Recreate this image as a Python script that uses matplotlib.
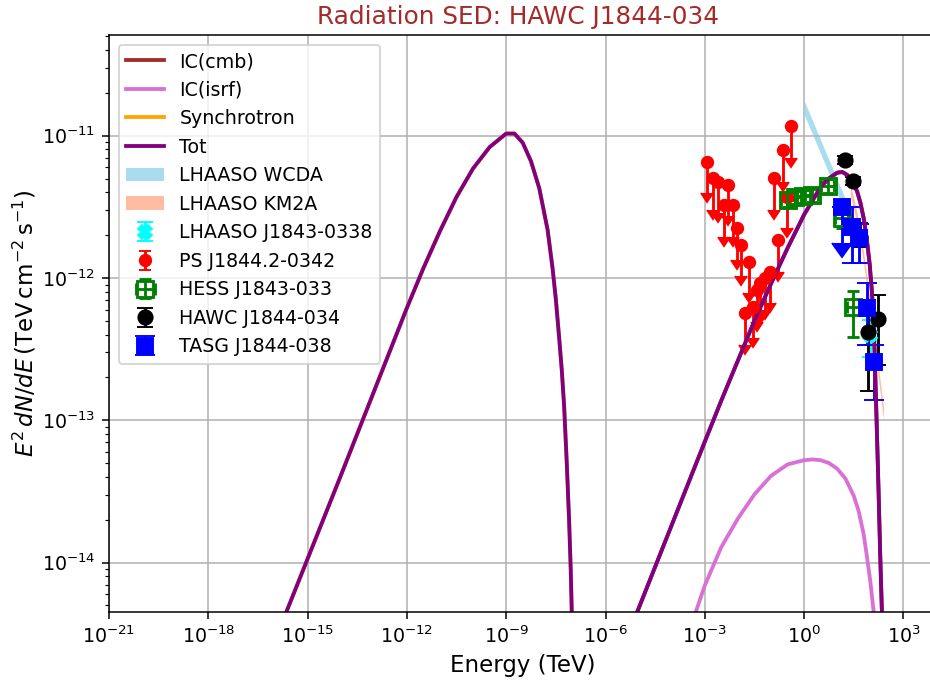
"""SED of HAWC J1844-034: leptonic model curves plus multi-instrument data."""

import matplotlib
matplotlib.use('Agg')
import matplotlib.pyplot as plt
import numpy as np

# --- model curves (log10 E [TeV], log10 E^2 dN/dE [TeV cm^-2 s^-1]) ---
sync_logE = [-16.0, -15.63, -14.0, -13.0, -12.0, -11.5, -11.0, -10.5, -10.0, -9.5, -9.0,
             -8.75, -8.5, -8.25, -8.0, -7.75, -7.6, -7.5, -7.4, -7.32, -7.25, -7.17,
             -7.1, -7.05, -7.02, -6.99]
sync_logF = [-14.56, -14.34, -13.39, -12.80, -12.21, -11.93, -11.67, -11.43, -11.23, -11.08, -10.985,
             -10.985, -11.05, -11.18, -11.37, -11.66, -11.93, -12.15, -12.42, -12.65, -12.9, -13.3,
             -13.7, -14.05, -14.34, -14.6]

cmb_logE = [-5.2, -5.03, -3.0, -2.5, -2.0, -1.5, -1.0, -0.5, 0.0, 0.5, 0.75, 1.0, 1.15,
            1.3, 1.45, 1.6, 1.7, 1.8, 1.9, 1.98, 2.05, 2.1, 2.14, 2.19, 2.25, 2.3, 2.35, 2.38]
cmb_logF = [-14.44, -14.34, -13.15, -12.86, -12.58, -12.30, -12.04, -11.79, -11.555, -11.36, -11.3,
            -11.26, -11.255, -11.275, -11.32, -11.39, -11.47, -11.58, -11.74, -11.9, -12.1, -12.3,
            -12.6, -13.0, -13.5, -13.95, -14.34, -14.6]

isrf_logE = [-3.4, -3.27, -3.0, -2.5, -2.0, -1.5, -1.0, -0.5, 0.0, 0.25, 0.5, 0.75, 1.0,
             1.25, 1.5, 1.65, 1.8, 1.9, 2.0, 2.08, 2.14, 2.17]
isrf_logF = [-14.43, -14.345, -14.16, -13.89, -13.69, -13.52, -13.39, -13.31, -13.28, -13.275, -13.28,
             -13.3, -13.34, -13.41, -13.53, -13.64, -13.8, -13.96, -14.13, -14.3, -14.42, -14.5]

# --- LHAASO bands ---
wcda_e = [1.0, 3.0, 10.0, 25.0]
wcda_lo = [1.41e-11, 7.7e-12, 3.94e-12, 2.37e-12]
wcda_hi = [1.77e-11, 9.6e-12, 4.94e-12, 2.97e-12]

km2a_e = [25.0, 40.0, 63.0, 100.0, 158.0, 251.0]
km2a_lo = [3.80e-12, 2.40e-12, 1.26e-12, 5.7e-13, 2.4e-13, 1.02e-13]
km2a_hi = [4.55e-12, 2.87e-12, 1.51e-12, 6.8e-13, 2.9e-13, 1.23e-13]

# --- data points ---
lhaaso_e = [98.0]
lhaaso_f = [4.0e-13]
lhaaso_lo = [1.2e-13]
lhaaso_hi = [1.1e-13]

ps_e = [1.19e-3, 1.73e-3, 2.56e-3, 3.80e-3, 5.13e-3, 6.97e-3, 9.19e-3, 1.24e-2, 1.64e-2,
        2.21e-2, 2.92e-2, 3.8e-2, 4.66e-2, 6.6e-2, 9.33e-2, 0.123, 0.166, 0.226, 0.298, 0.402]
ps_f = [6.56e-12, 5.02e-12, 4.75e-12, 3.26e-12, 4.51e-12, 3.26e-12, 2.24e-12, 1.71e-12, 5.66e-13,
        1.30e-12, 6.30e-13, 8.24e-13, 9.18e-13, 1.0e-12, 1.11e-12, 5.02e-12, 1.85e-12, 7.94e-12,
        3.73e-12, 1.17e-11]
ul_frac = 0.4

hess_e = [0.33, 0.53, 0.95, 1.69, 5.27, 13.7, 30.6]
hess_f = [3.53e-12, 3.7e-12, 3.78e-12, 3.84e-12, 4.43e-12, 2.64e-12, 6.27e-13]
hess_lo = [4.0e-13, 4.0e-13, 4.0e-13, 4.0e-13, 5.0e-13, 4.0e-13, 2.4e-13]
hess_hi = [4.0e-13, 4.0e-13, 4.0e-13, 4.0e-13, 5.0e-13, 4.0e-13, 1.9e-13]
hess_elo = [0.13, 0.2, 0.35, 0.6, 2.0, 5.0, 11.0]
hess_ehi = [0.2, 0.3, 0.55, 1.0, 3.0, 8.0, 17.0]

hawc_e = [17.2, 29.3, 49.0, 87.0, 167.0]
hawc_f = [6.75e-12, 4.83e-12, 1.95e-12, 4.2e-13, 5.13e-13]
hawc_lo = [4.0e-13, 3.0e-13, 2.9e-13, 2.6e-13, 2.7e-13]
hawc_hi = [4.0e-13, 3.0e-13, 4.8e-13, 2.8e-13, 2.5e-13]

tasg_e = [14.0, 28.0, 45.7, 77.8, 132.0]
tasg_f = [3.16e-12, 2.28e-12, 1.91e-12, 6.16e-13, 2.58e-13]
tasg_lo = [1.4e-12, 1.0e-12, 6.4e-13, 2.8e-13, 1.2e-13]
tasg_hi = [0.0, 8.8e-13, 5.0e-13, 3.1e-13, 8.0e-14]
tasg_ul = [True, False, False, False, False]

fig = plt.figure(figsize=(930 / 137, 689 / 137), dpi=137)
ax = fig.add_axes([109 / 930, 77 / 689, 827.5 / 930, 577 / 689])

h_cyan = ax.errorbar(lhaaso_e, lhaaso_f, yerr=[lhaaso_lo, lhaaso_hi], fmt='X', color='cyan',
                     ms=7, capsize=4, label='LHAASO J1843-0338')
ps_f = np.array(ps_f)
h_ps = ax.errorbar(ps_e, ps_f, yerr=ul_frac * ps_f, uplims=True, fmt='o', color='red',
                   capsize=3, label='PS J1844.2-0342')
h_hess = ax.errorbar(hess_e, hess_f, yerr=[hess_lo, hess_hi], xerr=[hess_elo, hess_ehi], fmt='s',
                     color='green', mfc='none', ms=8, mew=1.5, capsize=3, label='HESS J1843-033')
h_hawc = ax.errorbar(hawc_e, hawc_f, yerr=[hawc_lo, hawc_hi], fmt='o', color='black',
                     ms=7.5, capsize=4, label='HAWC J1844-034')
h_tasg = ax.errorbar(tasg_e, tasg_f, yerr=[tasg_lo, tasg_hi], uplims=tasg_ul, fmt='s', color='blue',
                     ms=8, capsize=5, label='TASG J1844-038')

h_wcda = ax.fill_between(wcda_e, wcda_lo, wcda_hi, color='skyblue', alpha=0.7, lw=0,
                         label='LHAASO WCDA')
h_km2a = ax.fill_between(km2a_e, km2a_lo, km2a_hi, color='lightsalmon', alpha=0.7, lw=0,
                         label='LHAASO KM2A')

h_cmb, = ax.plot(10.0 ** np.array(cmb_logE), 10.0 ** np.array(cmb_logF), color='brown', lw=2,
                 label='IC(cmb)')
h_isrf, = ax.plot(10.0 ** np.array(isrf_logE), 10.0 ** np.array(isrf_logF), color='orchid', lw=2,
                  label='IC(isrf)')
h_sync, = ax.plot(10.0 ** np.array(sync_logE), 10.0 ** np.array(sync_logF), color='orange', lw=2,
                  label='Synchrotron')

tot_logE = sync_logE + [np.nan] + cmb_logE
tot_logF = sync_logF + [np.nan] + cmb_logF
h_tot, = ax.plot(10.0 ** np.array(tot_logE), 10.0 ** np.array(tot_logF), color='purple', lw=2,
                 label='Tot')

ax.set_xscale('log')
ax.set_yscale('log')
ax.set_xlim(1e-21, 1e4)
ax.set_ylim(4.5e-15, 5.1e-11)
ax.set_xlabel('Energy (TeV)', fontsize=12)
ax.set_ylabel(r'$E^2\,dN/dE\,(\rm TeV\,cm^{-2}\,s^{-1})$', fontsize=12, labelpad=2)
ax.set_title('Radiation SED: HAWC J1844-034', color='brown', fontsize=13, x=0.4937)
ax.grid(True)
handles = [h_cmb, h_isrf, h_sync, h_tot, h_wcda, h_km2a, h_cyan, h_ps, h_hess, h_hawc, h_tasg]
ax.legend(handles=handles, labels=[h.get_label() for h in handles], loc='upper left')

fig.savefig('out.png', dpi=137)
